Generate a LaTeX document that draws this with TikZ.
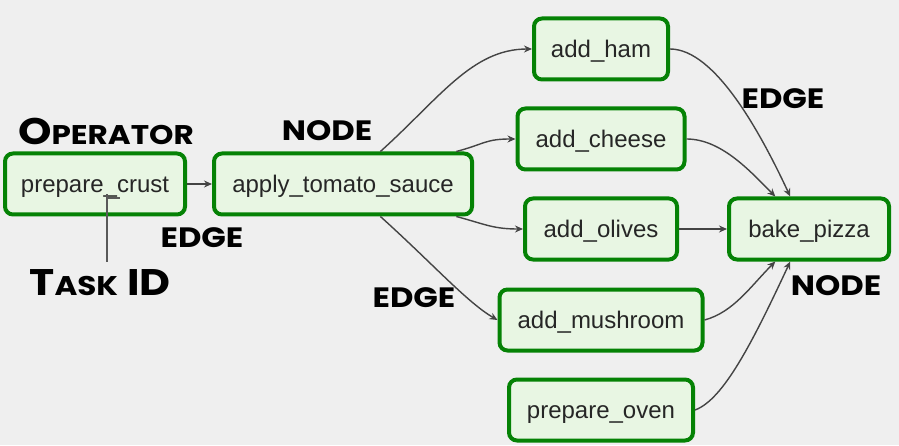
\documentclass[tikz,border=0pt]{standalone}
\usepackage{fontspec}
\setmainfont{Liberation Sans}
\newfontfamily\handfont{Poppins}[FakeStretch=1.15]
\usetikzlibrary{arrows.meta}
\definecolor{bg}{HTML}{EFEFEF}
\definecolor{taskfill}{HTML}{E8F6E3}
\definecolor{taskline}{HTML}{058205}
\definecolor{edgecol}{HTML}{444444}
\definecolor{txt}{HTML}{262626}
% big first letter, smaller capitals after it
\newcommand\capword[2]{{\fontsize{37}{37}\selectfont #1}{\fontsize{27}{27}\selectfont #2}}
\tikzset{
  task/.style={draw=taskline, fill=taskfill, line width=4pt, rounded corners=8pt,
    minimum height=61pt, inner sep=0pt, text=txt,
    text height=20pt, text depth=3pt,
    font=\fontsize{24}{27}\selectfont},
  flow/.style={draw=edgecol, line width=1.4pt, -{Stealth[length=8pt,width=7pt]}},
  note/.style={font=\handfont\bfseries\fontsize{28}{28}\selectfont, text=black, inner sep=0pt},
  pointer/.style={draw=black!65, line width=2pt}
}
\begin{document}
\begin{tikzpicture}[x=1pt,y=1pt]
\fill[bg] (0,0) rectangle (899,445);
\useasboundingbox (0,0) rectangle (899,445);

% tasks
\node[task, minimum width=180pt] (crust)    at (95,261)  {prepare\_crust};
\node[task, minimum width=258pt] (sauce)    at (343,261) {apply\_tomato\_sauce};
\node[task, minimum width=134pt] (ham)      at (601,396) {add\_ham};
\node[task, minimum width=167pt] (cheese)   at (601,306) {add\_cheese};
\node[task, minimum width=152pt] (olives)   at (601,216) {add\_olives};
\node[task, minimum width=203pt] (mushroom) at (601,125) {add\_mushroom};
\node[task, minimum width=184pt] (oven)     at (601,35)  {prepare\_oven};
\node[task, minimum width=160pt] (bake)     at (809,216) {bake\_pizza};

% dependencies
\draw[flow] (crust.east) -- (sauce.west);
\draw[flow] (sauce.41) .. controls +(42:80) and +(-60,0) .. (ham.west);
\draw[flow] (sauce.16) .. controls +(15:30) and +(-30,0) .. (cheese.west);
\draw[flow] (sauce.-16) .. controls +(-15:30) and +(-30,0) .. (olives.west);
\draw[flow] (sauce.-41) .. controls +(-42:70) and +(150:35) .. (mushroom.west);
\draw[flow] (ham.east) .. controls +(45,0) and +(115:70) .. (bake.120);
\draw[flow] (cheese.east) .. controls +(35,0) and +(135:35) .. (bake.136);
\draw[flow] (olives.east) -- (bake.west);
\draw[flow] (mushroom.east) .. controls +(15:30) and +(-135:35) .. (bake.224);
\draw[flow] (oven.east) .. controls +(20:30) and +(245:90) .. (bake.240);

% annotations
\node[note] (op)    at (106,314) {\capword{O}{PERATOR}};
\node[note] (node1) at (327,314) {NODE};
\node[note] (edge1) at (202,207) {EDGE};
\node[note] (tid)   at (100,162) {\capword{T}{ASK}\capword{\ I}{}\capword{D}{}};
\node[note] (edge2) at (414,147) {EDGE};
\node[note] (edge3) at (783,346) {EDGE};
\node[note] (node2) at (836,159) {NODE};

\coordinate (tip)  at (107,251);
\coordinate (bar0) at (107,247);
\coordinate (bar1) at (120,247);
\draw[pointer] (tid.north -| tip) ++(0,8) -- (tip);
\draw[pointer] (bar0) -- (bar1);
\end{tikzpicture}
\end{document}
